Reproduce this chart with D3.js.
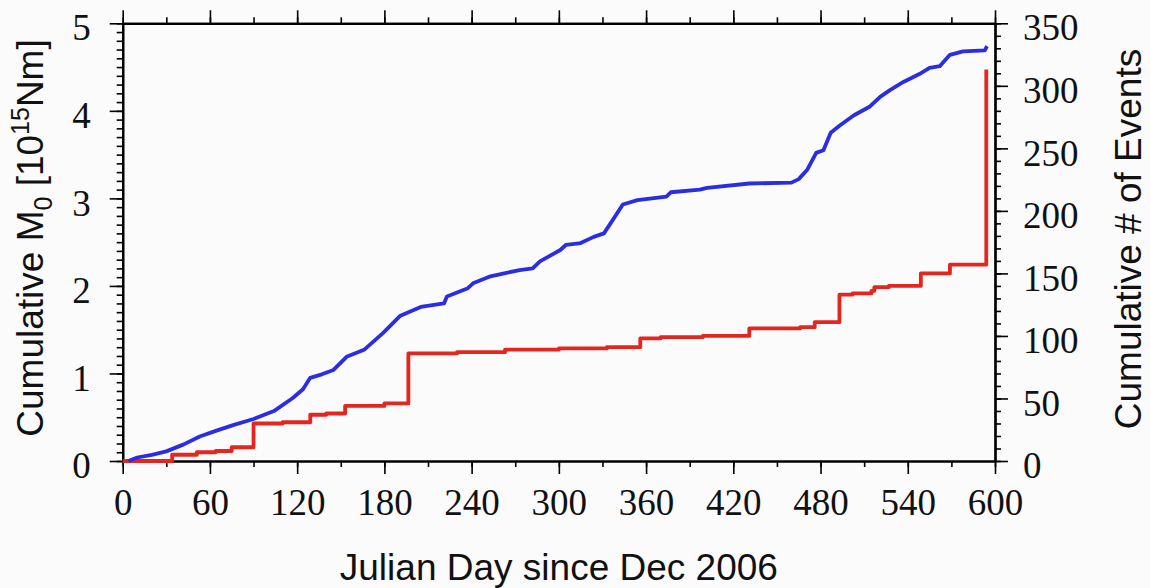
<!DOCTYPE html>
<meta charset="utf-8">
<style>
body { margin: 0; background: #fbfbfb; }
svg { display: block; background: #fbfbfb; }
.axis path { stroke: #000; stroke-width: 2.2px; }
.axis line { stroke: #000; stroke-width: 1.6px; }
.axis text { font-family: "Liberation Serif", "Times New Roman", serif; font-size: 37px; fill: #111; }
.title { font-family: "Liberation Sans", Arial, Helvetica, sans-serif; font-size: 37px; fill: #111; }
.line { fill: none; stroke-width: 3.8px; stroke-linejoin: round; }
</style>
<svg width="1150" height="588"></svg>
<script src="https://cdn.jsdelivr.net/npm/d3@7/dist/d3.min.js"></script>
<script>

// cumulative seismic moment (10^15 Nm), left axis
var momentDay = [4, 10, 20, 30, 42, 53, 65, 76, 90, 104, 117, 124, 129, 137, 145, 154, 166, 179, 191, 205,
                 221, 223, 237, 241, 253, 264, 273, 282, 287, 301, 305, 315, 324, 331, 335, 344, 354, 374,
                 377, 397, 402, 431, 460, 465, 471, 477, 482, 487, 493, 503, 514, 521, 528, 537, 548, 555,
                 562, 569, 578, 593, 594.5];
var momentVal = [0, 0.04, 0.07, 0.11, 0.19, 0.28, 0.35, 0.41, 0.48, 0.57, 0.72, 0.82, 0.95, 0.99, 1.04, 1.19,
                 1.27, 1.46, 1.66, 1.76, 1.80, 1.88, 1.97, 2.03, 2.11, 2.15, 2.18, 2.20, 2.28, 2.41, 2.47,
                 2.49, 2.56, 2.60, 2.70, 2.93, 2.98, 3.02, 3.07, 3.10, 3.12, 3.17, 3.18, 3.22, 3.33, 3.52,
                 3.55, 3.75, 3.83, 3.95, 4.05, 4.16, 4.24, 4.33, 4.42, 4.49, 4.51, 4.64, 4.68, 4.69, 4.74];

// cumulative number of events, right axis
var eventDay = [0, 34, 51, 64, 75, 90, 110, 129, 140, 153, 180, 196.5, 230, 263, 300, 333, 356, 370, 399,
                431, 466, 476, 493, 502, 515, 517, 527, 549, 569, 594];
var eventCount = [0, 5, 7, 8, 11, 30, 31, 37, 38, 44, 46, 86, 87, 89, 90, 91, 98, 99, 100, 106, 107, 111,
                  133, 134, 136, 139, 140, 150, 157, 313];

var dayTicks = [0, 60, 120, 180, 240, 300, 360, 420, 480, 540, 600];
var momentTicks = [0, 1, 2, 3, 4, 5];
var eventTicks = [0, 50, 100, 150, 200, 250, 300, 350];

var svg = d3.select("svg"),
    margin = {top: 23.3, right: 155, bottom: 127, left: 122.7},
    width = 1150 - margin.left - margin.right,
    height = 588 - margin.top - margin.bottom,
    g = svg.append("g").attr("transform", "translate(" + margin.left + "," + margin.top + ")");

var x = d3.scaleLinear().domain([0, 600]).range([0, width]),
    yL = d3.scaleLinear().domain([0, 5]).range([height, 0]),
    yR = d3.scaleLinear().domain([0, 350]).range([height, 0]);

var minorDay = d3.range(0, 601, 30),
    minorMoment = d3.range(0, 50.5, 1).map(function(d) { return d / 10; }),
    minorEvent = d3.range(0, 351, 10);

function minor(axis, vals) {
  return axis.tickValues(vals).tickSize(6).tickSizeOuter(0).tickFormat("");
}

// minor ticks
g.append("g").attr("class", "axis").attr("transform", "translate(0," + height + ")")
    .call(minor(d3.axisBottom(x), minorDay));
g.append("g").attr("class", "axis")
    .call(minor(d3.axisTop(x), minorDay));
g.append("g").attr("class", "axis")
    .call(minor(d3.axisLeft(yL), minorMoment));
g.append("g").attr("class", "axis").attr("transform", "translate(" + width + ",0)")
    .call(minor(d3.axisRight(yR), minorEvent));

// major ticks and labels
g.append("g").attr("class", "axis").attr("transform", "translate(0," + height + ")")
    .call(d3.axisBottom(x).tickValues(dayTicks).tickSize(13).tickSizeOuter(0).tickPadding(15));
g.append("g").attr("class", "axis")
    .call(d3.axisTop(x).tickValues(dayTicks).tickSize(13).tickSizeOuter(0).tickFormat(""));
g.append("g").attr("class", "axis axis--left")
    .call(d3.axisLeft(yL).tickValues(momentTicks).tickFormat(d3.format("d"))
      .tickSize(13).tickSizeOuter(0).tickPadding(19));
g.append("g").attr("class", "axis axis--right").attr("transform", "translate(" + width + ",0)")
    .call(d3.axisRight(yR).tickValues(eventTicks).tickSize(13).tickSizeOuter(0).tickPadding(15));

g.selectAll(".axis--left text, .axis--right text").attr("dy", "0.45em");

var momentLine = d3.line()
    .x(function(d) { return x(d[0]); })
    .y(function(d) { return yL(d[1]); });

var eventLine = d3.line()
    .curve(d3.curveStepAfter)
    .x(function(d) { return x(d[0]); })
    .y(function(d) { return yR(d[1]); });

g.append("path")
    .attr("class", "line")
    .style("stroke", "#e3261f")
    .attr("d", eventLine(eventDay.map(function(d, i) { return [d, eventCount[i]]; })));

g.append("path")
    .attr("class", "line")
    .style("stroke", "#2a2ee0")
    .attr("d", momentLine(momentDay.map(function(d, i) { return [d, momentVal[i]]; })));

// titles
svg.append("text")
    .attr("class", "title")
    .attr("x", margin.left + width / 2)
    .attr("y", 580)
    .attr("text-anchor", "middle")
    .text("Julian Day since Dec 2006");

var lt = svg.append("text")
    .attr("class", "title")
    .attr("transform", "translate(43," + 238 + ") rotate(-90)")
    .attr("text-anchor", "middle");
lt.append("tspan").text("Cumulative M");
lt.append("tspan").attr("dy", 9).style("font-size", "25px").text("0");
lt.append("tspan").attr("dy", -9).text(" [10");
lt.append("tspan").attr("dy", -14).style("font-size", "25px").text("15");
lt.append("tspan").attr("dy", 14).text("Nm]");

svg.append("text")
    .attr("class", "title")
    .attr("transform", "translate(1141," + 239 + ") rotate(-90)")
    .attr("text-anchor", "middle")
    .text("Cumulative # of Events");

</script>
